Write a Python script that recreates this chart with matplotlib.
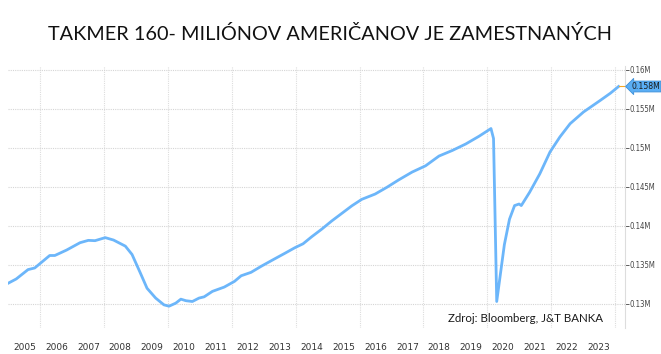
import matplotlib
matplotlib.use('Agg')
import matplotlib.pyplot as plt
from matplotlib.ticker import FuncFormatter

# Employed Americans (millions)
years = [2005.0, 2005.24, 2005.61, 2005.82, 2006.29, 2006.45, 2006.82, 2007.24, 2007.5, 2007.71,
         2008.03, 2008.29, 2008.66, 2008.87, 2009.13, 2009.34, 2009.61, 2009.87, 2010.03, 2010.24,
         2010.4, 2010.56, 2010.76, 2010.97, 2011.13, 2011.39, 2011.76, 2012.08, 2012.29, 2012.6,
         2012.92, 2013.34, 2013.65, 2013.97, 2014.23, 2014.5, 2014.81, 2015.13, 2015.76, 2016.07,
         2016.49, 2016.86, 2017.23, 2017.65, 2018.07, 2018.49, 2018.91, 2019.33, 2019.75, 2020.12,
         2020.2, 2020.3, 2020.54, 2020.7, 2020.86, 2021.0, 2021.07, 2021.33, 2021.65, 2021.97,
         2022.28, 2022.6, 2023.02, 2023.55, 2023.86, 2024.12]
employed = [132.67, 133.19, 134.39, 134.6, 136.2, 136.2, 136.9, 137.84, 138.14, 138.1,
            138.49, 138.18, 137.4, 136.33, 133.96, 132.0, 130.74, 129.87, 129.7, 130.09,
            130.6, 130.4, 130.3, 130.74, 130.9, 131.6, 132.15, 132.88, 133.6, 134.04,
            134.82, 135.77, 136.46, 137.19, 137.7, 138.6, 139.56, 140.63, 142.57, 143.4,
            144.08, 144.95, 145.9, 146.9, 147.7, 148.95, 149.67, 150.5, 151.5, 152.48,
            151.2, 130.3, 137.6, 140.85, 142.6, 142.8, 142.6, 144.3, 146.67, 149.47,
            151.4, 153.1, 154.6, 156.1, 157.0, 157.87]

year_labels = [str(y) for y in range(2005, 2024)]
y_ticks = [130, 135, 140, 145, 150, 155, 160]

fig = plt.figure(figsize=(6.61, 3.54), dpi=100)
ax = fig.add_axes([0.012, 0.0734, 0.9335, 0.7402])

ax.plot(years, employed, color='#6cb6fa', linewidth=2.0, solid_joinstyle='round')

ax.set_xlim(2004.98, 2024.32)
ax.set_ylim(126.9, 160.5)

# year labels centred in each year, grid only on even years
ax.set_xticks([y + 0.5 for y in range(2005, 2024)])
ax.set_xticklabels(year_labels)
ax.tick_params(axis='x', length=0, labelsize=6.5, colors='#333333', pad=11)
for y in range(2006, 2025, 2):
    ax.axvline(y, color='#dddddd', linewidth=0.8, linestyle=(0, (1, 1)), zorder=0)

ax.yaxis.tick_right()
ax.set_yticks(y_ticks)
ax.yaxis.set_major_formatter(FuncFormatter(lambda v, p: '{:g}M'.format(v / 1000)))
ax.tick_params(axis='y', labelsize=5.6, colors='#444444', length=3, width=0.6, pad=0.5)
for lbl in ax.get_yticklabels():
    lbl.set_fontstretch('condensed')
ax.grid(axis='y', color='#d5d5d5', linewidth=0.8, linestyle=(0, (1, 1)))

for s in ['top', 'left', 'bottom']:
    ax.spines[s].set_visible(False)
ax.spines['right'].set_color('#dddddd')

# last value marker
last_x, last_y = years[-1], employed[-1]
ax.plot([last_x, 2024.32], [last_y, last_y], color='#f5a623', linewidth=0.8, clip_on=False)
ax.annotate('0.158M', xy=(1.0, last_y), xycoords=('axes fraction', 'data'),
            xytext=(4.5, 0), textcoords='offset points', ha='left', va='center',
            fontsize=5.6, color='#1a1a1a',
            bbox=dict(boxstyle='larrow,pad=0.12', fc='#5aaef5', ec='#3d8fd8', lw=0.6))

ax.text(0.713, 0.035, 'Zdroj: Bloomberg, J&T BANKA', transform=ax.transAxes,
        fontsize=8.3, family='Lato', color='#1a1a1a', va='center')

fig.text(0.499, 0.903, 'TAKMER 160- MILIÓNOV AMERIČANOV JE ZAMESTNANÝCH',
         ha='center', va='center', fontsize=14.3, family='Lato', color='#111111')

plt.savefig('out.png', dpi=100)
